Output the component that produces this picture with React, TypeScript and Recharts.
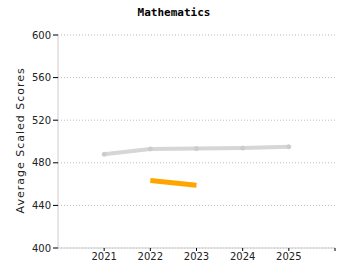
import React from 'react';
import { LineChart, Line, XAxis, YAxis, CartesianGrid } from 'recharts';

// values
const years = [2021, 2022, 2023, 2024, 2025];
const allStudents = [488, 493, 493.4, 493.8, 495];
const groupScores: (number | null)[] = [null, 463.4, 459, null, null];
const yTicks = [400, 440, 480, 520, 560, 600];
const xTicks = [2021, 2022, 2023, 2024, 2025, 2026];

const chartData = years.map((year, i) => ({
  year,
  all: allStudents[i],
  group: groupScores[i],
}));

const tickFont = { fontFamily: '"DejaVu Sans", Verdana, sans-serif', fontSize: 10, fill: '#222' };

const App: React.FC = () => {
  return (
    <div style={{ position: 'absolute', left: 0, top: 0, width: 350, height: 280, background: '#fff' }}>
      <div
        style={{
          position: 'absolute',
          left: 0,
          top: 6,
          width: 348,
          textAlign: 'center',
          fontFamily: '"DejaVu Sans Mono", monospace',
          fontWeight: 'bold',
          fontSize: 11,
          color: '#000',
        }}
      >
        Mathematics
      </div>
      <LineChart width={350} height={280} data={chartData} margin={{ top: 35, right: 15, bottom: 0, left: 0 }}>
        <CartesianGrid vertical={false} stroke="#bbb" strokeDasharray="1 2" />
        <XAxis
          dataKey="year"
          type="number"
          domain={[2020, 2026]}
          ticks={xTicks}
          tickFormatter={(v: number) => (v === 2026 ? '' : String(v))}
          height={32}
          tick={tickFont}
          tickSize={3}
          axisLine={{ stroke: '#ccc' }}
          tickLine={{ stroke: '#000' }}
        />
        <YAxis
          domain={[400, 600]}
          ticks={yTicks}
          width={58}
          tick={tickFont}
          tickSize={5}
          axisLine={{ stroke: '#ccc' }}
          tickLine={{ stroke: '#000' }}
          label={{
            value: 'Average Scaled Scores',
            angle: -90,
            position: 'insideLeft',
            dx: 15,
            dy: 72,
            style: { fontFamily: '"DejaVu Sans", Verdana, sans-serif', fontSize: 11, letterSpacing: 1, fill: '#222' },
          }}
        />
        <Line
          type="linear"
          dataKey="all"
          stroke="#d6d6d6"
          strokeWidth={4}
          dot={{ r: 2, fill: '#ccc', stroke: '#ccc', strokeWidth: 1 }}
          isAnimationActive={false}
        />
        <Line
          type="linear"
          dataKey="group"
          stroke="#FFA500"
          strokeWidth={5}
          dot={false}
          connectNulls={false}
          isAnimationActive={false}
        />
      </LineChart>
    </div>
  );
};

export default App;
